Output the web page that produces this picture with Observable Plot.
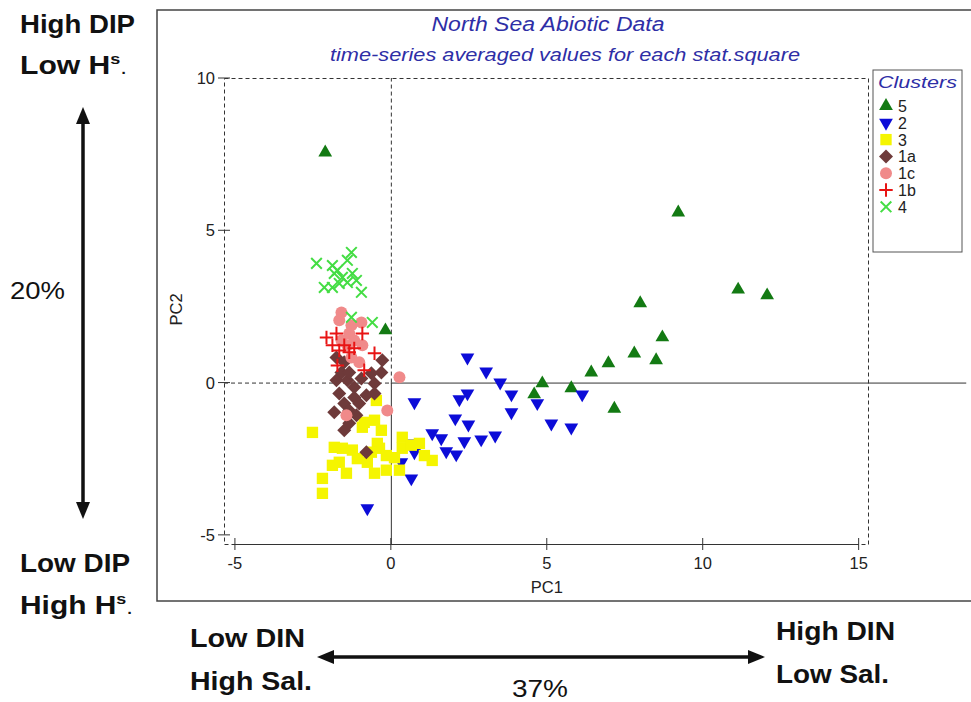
<!DOCTYPE html>
<html>
<head>
<meta charset="utf-8">
<script src="https://cdn.jsdelivr.net/npm/d3@7"></script>
<script src="https://cdn.jsdelivr.net/npm/@observablehq/plot@0.6"></script>
<style>
  html, body { margin: 0; padding: 0; background: #fff; }
  #chart { width: 971px; height: 702px; }
  svg text { font-family: Arial, "Liberation Sans", sans-serif; }
</style>
</head>
<body>
<div id="chart"></div>
<script>
// PCA scores (PC1, PC2) per statistical square, grouped by cluster
const clusterNames = ["5", "2", "3", "1a", "1c", "1b", "4"];

const cluster5 = [[-2.12,7.57],[-0.19,1.73],[9.20,5.60],[7.98,2.62],[11.12,3.07],[12.05,2.88],[8.69,1.50],
  [7.79,0.97],[8.49,0.75],[6.96,0.65],[6.41,0.35],[4.84,-0.01],[5.77,-0.17],[4.58,-0.37],[7.15,-0.84]];

const cluster2 = [[2.44,0.84],[3.04,0.38],[3.49,0.02],[3.85,-0.37],[4.68,-0.66],[6.12,-0.37],[5.13,-1.33],
  [5.77,-1.46],[2.44,-0.34],[2.18,-0.53],[3.85,-0.96],[2.05,-1.16],[2.47,-1.36],[3.33,-1.72],[2.88,-1.85],
  [2.34,-1.91],[1.60,-1.81],[1.31,-1.65],[1.76,-2.24],[2.08,-2.34],[0.74,-0.63],[0.67,-1.98],[0.74,-2.27],
  [0.32,-2.60],[0.64,-3.13],[-0.77,-4.11]];

const cluster3 = [[-2.53,-1.62],[-1.83,-2.11],[-1.57,-2.14],[-0.87,-1.29],[-0.54,-1.22],[-0.32,-1.55],
  [-0.45,-1.98],[-0.16,-2.38],[-1.09,-2.48],[-1.67,-2.60],[-1.44,-2.96],[-2.21,-3.13],[-2.21,-3.62],
  [-0.54,-2.96],[-0.38,-2.14],[-0.77,-2.60],[0.35,-1.78],[0.35,-2.14],[0.64,-2.04],[0.90,-1.98],[1.06,-2.38],
  [1.31,-2.54],[0.26,-2.86],[-0.48,-0.57],[-0.64,-2.27],[-1.89,-2.70],[-0.93,-1.45],[-0.16,-2.86],
  [0.10,-2.45],[-1.25,-2.20]];

const cluster1a = [[-1.76,0.84],[-1.51,0.68],[-0.29,0.75],[-0.32,0.35],[-0.64,0.32],[-0.96,0.15],[-1.76,0.09],
  [-1.41,0.09],[-0.54,-0.01],[-1.19,-0.14],[-1.83,-0.96],[-1.51,-0.67],[-1.19,-0.47],[-0.80,-0.40],
  [-0.54,-0.34],[-1.35,-1.32],[-0.80,-2.27],[-1.67,-0.34],[-1.35,-0.90],[-1.12,-1.06],[-1.51,-1.55],
  [-1.03,-0.67],[-1.60,0.35],[-1.35,0.35]];

const cluster1c = [[-1.60,2.32],[-1.67,2.06],[-1.28,1.90],[-0.96,1.99],[-1.35,1.63],[-1.19,1.40],[-1.60,1.40],
  [-1.41,1.24],[-0.93,1.24],[-1.28,0.84],[-1.03,0.68],[0.26,0.19],[-1.44,-1.06],[-0.13,-0.90]];

const cluster1b = [[-2.08,1.50],[-1.76,1.63],[-1.89,1.24],[-1.51,1.24],[-1.19,1.14],[-0.93,1.63],[-1.67,1.07],
  [-0.54,0.98],[-1.73,0.58],[-0.87,0.42],[-1.35,1.01]];

const cluster4 = [[-2.40,3.93],[-1.89,3.86],[-1.28,4.29],[-1.41,4.03],[-1.73,3.70],[-1.57,3.47],[-1.25,3.60],
  [-2.15,3.14],[-1.89,3.14],[-1.67,3.27],[-1.41,3.30],[-1.12,3.37],[-0.96,2.98],[-1.28,2.16],[-0.61,1.99],
  [-1.83,3.60]];

const xTicks = [-5, 0, 5, 10, 15];
const yTicks = [-5, 0, 5, 10];

// marker styles, in drawing (and legend) order
const styles = {
  "5":  { pts: cluster5,  symbol: "triangle", d3sym: d3.symbolTriangle, fill: "#137a13", r: 5.1 },
  "2":  { pts: cluster2,  symbol: "triangle", d3sym: d3.symbolTriangle, fill: "#0c0cd8", r: 5.1, rotate: 180 },
  "3":  { pts: cluster3,  symbol: "square",   d3sym: d3.symbolSquare,   fill: "#f5f500", r: 6.4 },
  "1a": { pts: cluster1a, symbol: "diamond2", d3sym: d3.symbolDiamond2, fill: "#6e3a3a", r: 6.3 },
  "1c": { pts: cluster1c, symbol: "circle",   d3sym: d3.symbolCircle,   fill: "#f08a8a", r: 6 },
  "1b": { pts: cluster1b, symbol: "plus",     d3sym: d3.symbolPlus,     stroke: "#e81414", r: 4.4 },
  "4":  { pts: cluster4,  symbol: "times",    d3sym: d3.symbolTimes,    stroke: "#44dd44", r: 4.9 }
};

const dotMarks = clusterNames.map(name => {
  const s = styles[name];
  return Plot.dot(s.pts, {
    x: d => d[0], y: d => d[1],
    symbol: s.symbol, r: s.r,
    rotate: s.rotate || 0,
    fill: s.fill || "none",
    stroke: s.stroke || "none",
    strokeWidth: s.stroke ? 2 : 0
  });
});

const ink = "#333";
const plot = Plot.plot({
  width: 971, height: 702,
  marginLeft: 224, marginRight: 103, marginTop: 78, marginBottom: 158,
  style: { background: "transparent", fontFamily: "Arial, 'Liberation Sans', sans-serif" },
  x: { domain: [-5.35, 15.3], axis: null },
  y: { domain: [-5.3, 10], axis: null },
  marks: [
    Plot.frame({ stroke: ink, strokeDasharray: "4,3" }),
    // origin cross-hair: dashed on the negative side, solid on the positive side
    Plot.ruleX([0], { y1: 0, y2: 10, stroke: ink, strokeDasharray: "4,3" }),
    Plot.ruleX([0], { y1: -5.3, y2: 0, stroke: ink }),
    Plot.ruleY([0], { x1: -5.35, x2: 0, stroke: ink, strokeDasharray: "4,3" }),
    Plot.ruleY([0], { x1: 0, x2: 18.45, stroke: ink }),
    // bottom axis line between the outer ticks
    Plot.ruleY([-5.3], { x1: xTicks[0], x2: xTicks[xTicks.length - 1], stroke: ink }),
    ...dotMarks
  ]
});

const svg = d3.select(plot);
const X = v => plot.scale("x").apply(v);
const Y = v => plot.scale("y").apply(v);
const yBottom = Y(-5.3), xLeft = X(-5.35);

// outer panel border
svg.insert("rect", ":first-child")
  .attr("x", 157).attr("y", 10).attr("width", 830).attr("height", 591)
  .attr("fill", "none").attr("stroke", "#444").attr("stroke-width", 1.5);

// axis ticks (crossing the axis line) and labels
const axes = svg.append("g").attr("fill", "#222").style("font-size", "16.5px");
xTicks.forEach(t => {
  axes.append("line").attr("x1", X(t)).attr("x2", X(t)).attr("y1", yBottom - 6).attr("y2", yBottom + 6)
    .attr("stroke", ink);
  axes.append("text").attr("x", X(t)).attr("y", yBottom + 25).attr("text-anchor", "middle")
    .text(t);
});
yTicks.forEach(t => {
  axes.append("line").attr("x1", xLeft - 6).attr("x2", xLeft + 6).attr("y1", Y(t)).attr("y2", Y(t))
    .attr("stroke", ink);
  axes.append("text").attr("x", xLeft - 9).attr("y", Y(t) + 6).attr("text-anchor", "end")
    .text(t);
});
axes.append("text").attr("x", X(5)).attr("y", yBottom + 49).attr("text-anchor", "middle").text("PC1");
axes.append("text").attr("transform", `translate(182,${Y(2.4)}) rotate(-90)`)
  .attr("text-anchor", "middle").text("PC2");

// titles
const blue = "#2e2ea6";
svg.append("text").attr("x", 548).attr("y", 31).attr("text-anchor", "middle")
  .attr("font-size", 20).attr("font-style", "italic").attr("fill", blue)
  .attr("textLength", 233).attr("lengthAdjust", "spacingAndGlyphs")
  .text("North Sea Abiotic Data");
svg.append("text").attr("x", 565).attr("y", 61).attr("text-anchor", "middle")
  .attr("font-size", 18).attr("font-style", "italic").attr("fill", blue)
  .attr("textLength", 470).attr("lengthAdjust", "spacingAndGlyphs")
  .text("time-series averaged values for each stat.square");

// legend
const lg = svg.append("g").attr("text-anchor", "start");
lg.append("rect").attr("x", 873).attr("y", 70).attr("width", 89).attr("height", 182)
  .attr("fill", "#fff").attr("stroke", "#555");
lg.append("text").attr("x", 878).attr("y", 88).attr("font-size", 17).attr("font-style", "italic")
  .attr("fill", blue).attr("textLength", 79).attr("lengthAdjust", "spacingAndGlyphs").text("Clusters");
clusterNames.forEach((name, i) => {
  const s = styles[name];
  const cy = 106 + i * 16.8;
  lg.append("path")
    .attr("d", d3.symbol(s.d3sym, Math.PI * s.r * s.r)())
    .attr("transform", `translate(886,${cy}) rotate(${s.rotate || 0})`)
    .attr("fill", s.fill || "none").attr("stroke", s.stroke || "none").attr("stroke-width", s.stroke ? 2 : 0);
  lg.append("text").attr("x", 898).attr("y", cy + 6).attr("font-size", 16).attr("fill", "#222").text(name);
});

// interpretation of the component axes
const note = svg.append("g").attr("fill", "#111").attr("text-anchor", "start");
function label(x, y, txt, opts = {}) {
  const size = opts.size || 25;
  const t = note.append("text").attr("x", x).attr("y", y)
    .attr("font-size", size).attr("font-weight", opts.weight || "bold");
  if (opts.sup) {
    t.append("tspan").text(txt);
    t.append("tspan").attr("font-size", size * 0.6).attr("dy", -10).text(opts.sup);
    t.append("tspan").attr("dy", 10).attr("font-size", size * 0.8).attr("font-weight", "normal").text(".");
  } else {
    t.text(txt);
  }
  if (opts.len) t.attr("textLength", opts.len).attr("lengthAdjust", "spacingAndGlyphs");
  return t;
}
label(20, 33, "High DIP", { len: 115 });
label(20, 74, "Low H", { sup: "s", len: 107 });
label(20, 572, "Low DIP", { len: 110 });
label(20, 614, "High H", { sup: "s", len: 113 });
label(10, 299, "20%", { weight: "normal", size: 24, len: 55 });

label(190, 647, "Low DIN", { len: 115 });
label(190, 690, "High Sal.", { len: 122 });
label(776, 640, "High DIN", { len: 119 });
label(776, 683, "Low Sal.", { len: 113 });
label(512, 697, "37%", { weight: "normal", size: 24, len: 56 });

// double-headed arrows
const arrows = svg.append("g").attr("fill", "#111");
arrows.append("line").attr("x1", 83).attr("x2", 83).attr("y1", 120).attr("y2", 506)
  .attr("stroke", "#111").attr("stroke-width", 3.5);
arrows.append("path").attr("d", "M83,107 L76,124 L90,124 Z");
arrows.append("path").attr("d", "M83,519 L76,502 L90,502 Z");
arrows.append("line").attr("x1", 330).attr("x2", 752).attr("y1", 657).attr("y2", 657)
  .attr("stroke", "#111").attr("stroke-width", 3.5);
arrows.append("path").attr("d", "M317,657 L334,650 L334,664 Z");
arrows.append("path").attr("d", "M765,657 L748,650 L748,664 Z");

document.getElementById("chart").appendChild(plot);
</script>
</body>
</html>
